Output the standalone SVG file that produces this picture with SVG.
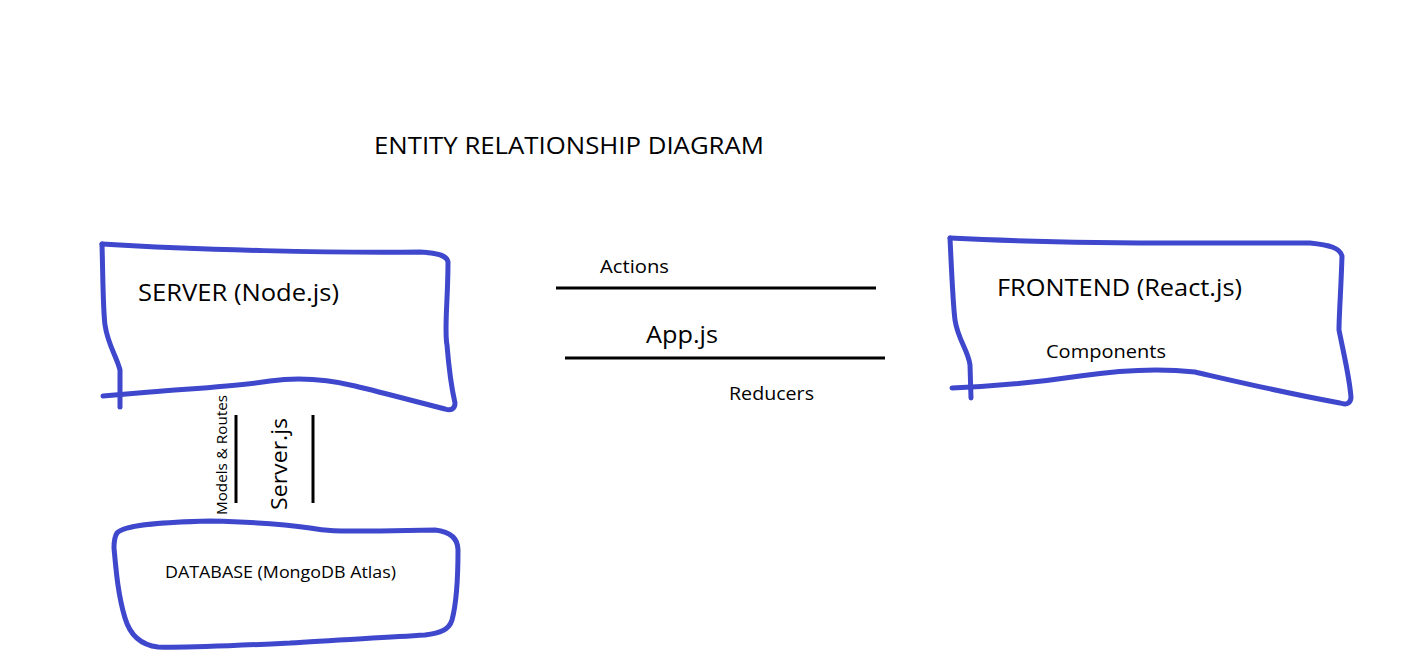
<svg xmlns="http://www.w3.org/2000/svg" width="1416" height="672" viewBox="0 0 1416 672">
<style>
.b{fill:none;stroke:#3f48cc;stroke-width:5;stroke-linecap:round;stroke-linejoin:round}
.l{stroke:#000;stroke-width:3}
text{font-family:"Open Sans","Noto Sans",sans-serif;fill:#000}
</style>
<rect width="1416" height="672" fill="#fff"/>
<text x="374" y="154" font-size="24" textLength="390" lengthAdjust="spacingAndGlyphs">ENTITY RELATIONSHIP DIAGRAM</text>
<g id="server">
<path class="b" d="M102,244 C200,250 330,253 420,252 C440,253 447,256 448,262 C448,300 444,330 447,345 C449,370 452,390 455,403 C455,409 451,411 445,409 C410,400 380,392 355,386 C330,380 300,377 270,381 C240,386 200,388 150,392 L103,396"/>
<path class="b" d="M102,244 C103,280 103,310 105,325 C108,345 116,355 120,370 L120,407"/>
<text x="138" y="301" font-size="24" textLength="201" lengthAdjust="spacingAndGlyphs">SERVER (Node.js)</text>
</g>
<g id="frontend">
<path class="b" d="M950,238 C1050,243 1150,243 1184,243 L1310,243 C1330,245 1340,248 1342,256 C1341,290 1339,315 1339,330 C1345,360 1350,380 1351,398 C1350,404 1346,405 1340,403 C1280,392 1230,380 1195,372 C1160,368 1120,370 1080,376 C1040,382 1000,386 952,388"/>
<path class="b" d="M950,238 C952,280 953,305 955,320 C958,340 968,350 970,365 L971,398"/>
<text x="997" y="296" font-size="24" textLength="245" lengthAdjust="spacingAndGlyphs">FRONTEND (React.js)</text>
<text x="1046" y="358" font-size="19" textLength="120" lengthAdjust="spacingAndGlyphs">Components</text>
</g>
<g id="database">
<path class="b" d="M117,533 C125,524 170,522 210,521 C250,522 290,525 310,528 C330,532 345,531 380,531 L435,530 C452,532 458,540 458,550 C458,580 456,605 452,620 C449,630 440,633 425,635 C380,638 330,640 290,643 C230,646 180,648 158,647 C140,645 130,635 125,618 C118,595 116,570 114,548 C114,540 115,536 117,533 Z"/>
<text x="165" y="578" font-size="16" textLength="231" lengthAdjust="spacingAndGlyphs">DATABASE (MongoDB Atlas)</text>
</g>
<g id="connectors">
<line class="l" x1="556" y1="288" x2="876" y2="288"/>
<line class="l" x1="565" y1="358" x2="885" y2="358"/>
<line class="l" x1="236" y1="415" x2="236" y2="503"/>
<line class="l" x1="313" y1="415" x2="313" y2="503"/>
<text x="600" y="273" font-size="19" textLength="69" lengthAdjust="spacingAndGlyphs">Actions</text>
<text x="646" y="343" font-size="24" textLength="72" lengthAdjust="spacingAndGlyphs">App.js</text>
<text x="729" y="400" font-size="19" textLength="85" lengthAdjust="spacingAndGlyphs">Reducers</text>
<text transform="translate(227,515) rotate(-90)" font-size="14" textLength="120" lengthAdjust="spacingAndGlyphs">Models &amp; Routes</text>
<text transform="translate(287,510) rotate(-90)" font-size="22" textLength="92" lengthAdjust="spacingAndGlyphs">Server.js</text>
</g>
</svg>
